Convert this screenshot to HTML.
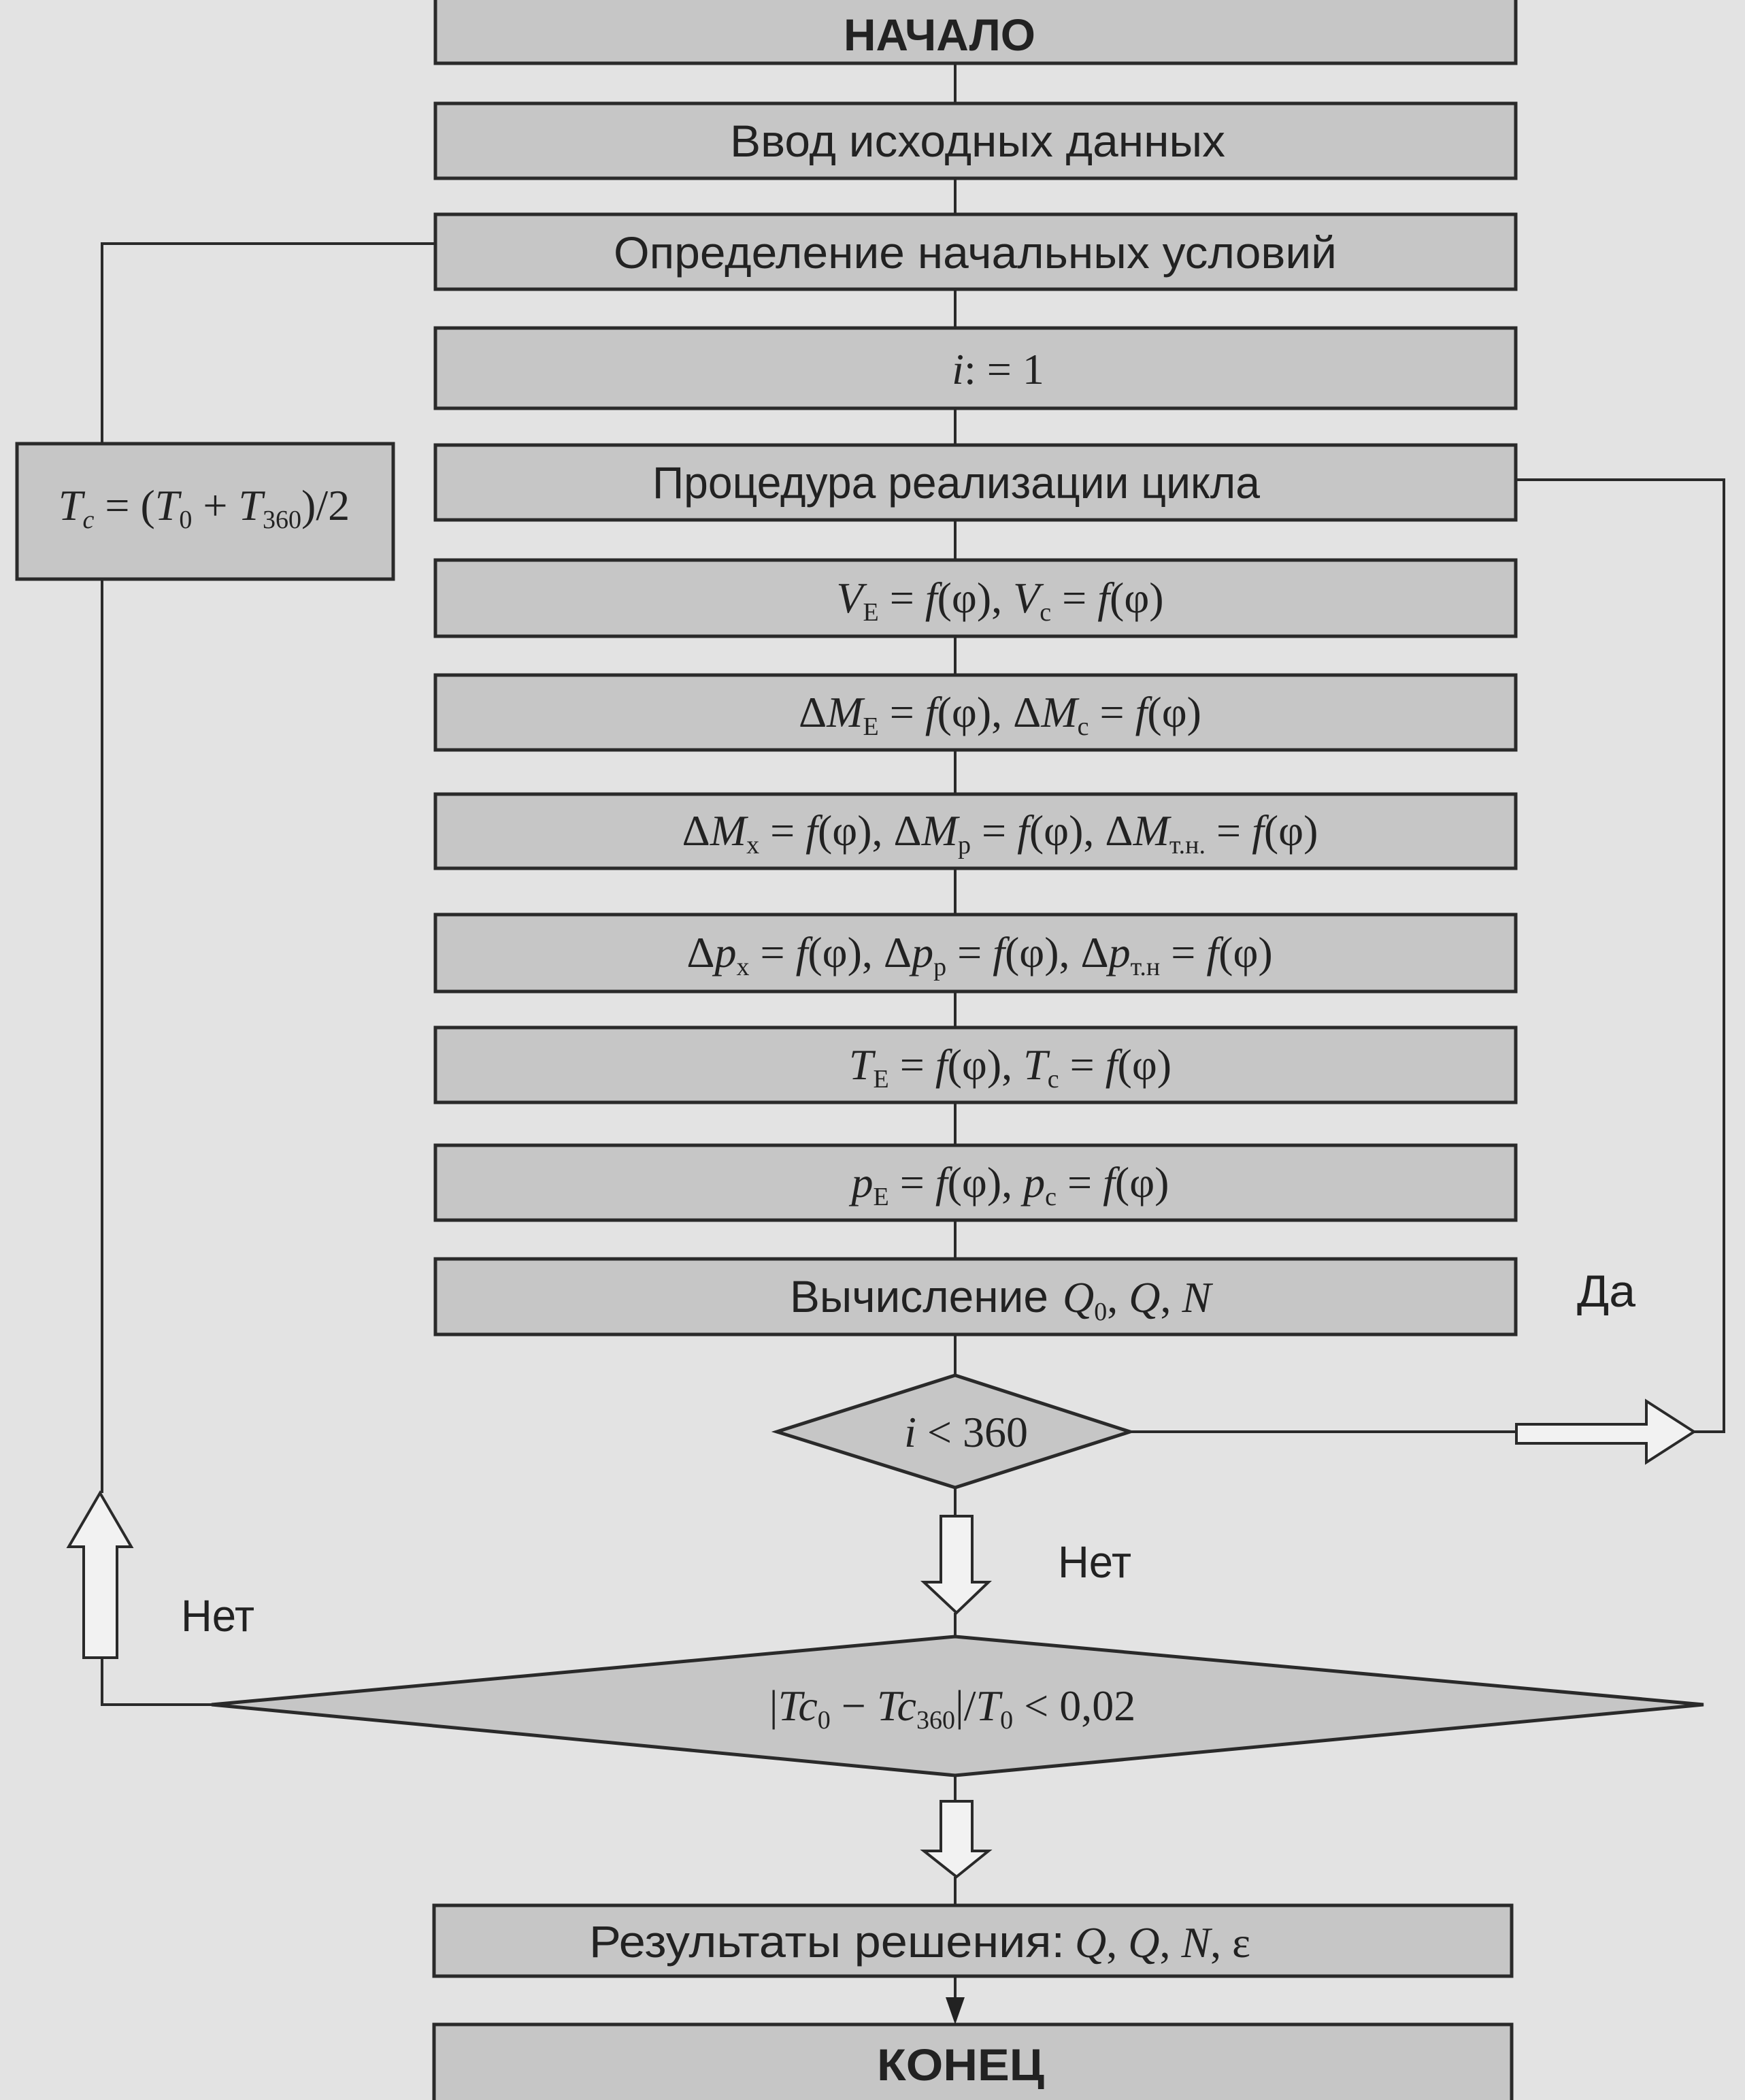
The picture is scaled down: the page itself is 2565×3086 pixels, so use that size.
<!DOCTYPE html>
<html><head><meta charset="utf-8">
<style>
html,body{margin:0;padding:0;background:#e3e3e3;}
svg{display:block;}
.s{font-family:"Liberation Sans Narrow","Liberation Sans",sans-serif;font-size:66px;fill:#222;}
.f{font-family:"Liberation Serif",serif;font-size:64px;fill:#222;}
.i{font-style:italic;}
</style></head>
<body>
<svg width="2565" height="3086" viewBox="0 0 2565 3086" xmlns="http://www.w3.org/2000/svg">
<rect width="2565" height="3086" fill="#e3e3e3"/>
<g stroke="#2a2a2a" stroke-width="5" fill="#c6c6c6">
<rect x="640" y="-5" width="1588" height="98"/>
<rect x="640" y="152" width="1588" height="110"/>
<rect x="640" y="315" width="1588" height="110"/>
<rect x="640" y="482" width="1588" height="118"/>
<rect x="640" y="654" width="1588" height="110"/>
<rect x="640" y="823" width="1588" height="112"/>
<rect x="640" y="992" width="1588" height="110"/>
<rect x="640" y="1167" width="1588" height="109"/>
<rect x="640" y="1344" width="1588" height="113"/>
<rect x="640" y="1510" width="1588" height="110"/>
<rect x="640" y="1683" width="1588" height="110"/>
<rect x="640" y="1850" width="1588" height="111"/>
<rect x="25" y="652" width="553" height="199"/>
<rect x="638" y="2800" width="1584" height="104"/>
<rect x="638" y="2975" width="1584" height="120"/>
<polygon points="1404,2021 1661,2104 1404,2186 1142,2104"/>
<polygon points="1404,2405 2504,2505 1404,2609 311,2505"/>
</g>
<g stroke="#2a2a2a" stroke-width="4" fill="none">
<line x1="1404" y1="93" x2="1404" y2="152"/>
<line x1="1404" y1="262" x2="1404" y2="315"/>
<line x1="1404" y1="425" x2="1404" y2="482"/>
<line x1="1404" y1="600" x2="1404" y2="654"/>
<line x1="1404" y1="764" x2="1404" y2="823"/>
<line x1="1404" y1="935" x2="1404" y2="992"/>
<line x1="1404" y1="1102" x2="1404" y2="1167"/>
<line x1="1404" y1="1276" x2="1404" y2="1344"/>
<line x1="1404" y1="1457" x2="1404" y2="1510"/>
<line x1="1404" y1="1620" x2="1404" y2="1683"/>
<line x1="1404" y1="1793" x2="1404" y2="1850"/>
<line x1="1404" y1="1961" x2="1404" y2="2021"/>
<line x1="1404" y1="2186" x2="1404" y2="2228"/>
<line x1="1404" y1="2370" x2="1404" y2="2405"/>
<line x1="1404" y1="2609" x2="1404" y2="2647"/>
<line x1="1404" y1="2758" x2="1404" y2="2800"/>
<line x1="1404" y1="2904" x2="1404" y2="2935"/>
<polyline points="311,2505 150,2505 150,2436"/>
<polyline points="150,2194 150,851"/>
<polyline points="150,652 150,358 640,358"/>
<polyline points="2228,705 2534,705 2534,2104 2490,2104"/>
<line x1="1661" y1="2104" x2="2229" y2="2104"/>
</g>
<polygon points="1390,2935 1418,2935 1404,2975" fill="#222"/>
<g stroke="#2a2a2a" stroke-width="4" fill="#f2f2f2">
<polygon points="1383,2228 1429,2228 1429,2325 1453,2325 1406,2370 1358,2325 1383,2325"/>
<polygon points="1383,2647 1429,2647 1429,2720 1453,2720 1406,2758 1358,2720 1383,2720"/>
<polygon points="123,2436 123,2273 101,2273 147,2194 193,2273 172,2273 172,2436"/>
<polygon points="2229,2093 2420,2093 2420,2059 2490,2104 2420,2149 2420,2121 2229,2121"/>
</g>
<text class="s" x="1240" y="74" font-weight="bold" textLength="282" lengthAdjust="spacingAndGlyphs">НАЧАЛО</text>
<text class="s" x="1073" y="230" textLength="728" lengthAdjust="spacingAndGlyphs">Ввод исходных данных</text>
<text class="s" x="902" y="394" textLength="1063" lengthAdjust="spacingAndGlyphs">Определение начальных условий</text>
<text class="s" x="959" y="732" textLength="893" lengthAdjust="spacingAndGlyphs">Процедура реализации цикла</text>
<text class="s" x="1161" y="1928" textLength="380" lengthAdjust="spacingAndGlyphs">Вычисление</text>
<text class="s" x="866" y="2876" textLength="699" lengthAdjust="spacingAndGlyphs">Результаты решения:</text>
<text class="s" x="1289" y="3057" font-weight="bold" textLength="246" lengthAdjust="spacingAndGlyphs">КОНЕЦ</text>
<text class="f" x="1562" y="1928"><tspan class="i">Q</tspan><tspan style="font-size:38px" dy="12">0</tspan><tspan dy="-12">, </tspan><tspan class="i">Q</tspan>, <tspan class="i">N</tspan></text>
<text class="f" x="1580" y="2876"><tspan class="i">Q</tspan>, <tspan class="i">Q</tspan>, <tspan class="i">N</tspan>, ε</text>
<g text-anchor="middle">
<text class="f" x="1467" y="564"><tspan class="i">i</tspan>: = 1</text>
<text class="f" x="1470" y="900"><tspan class="i">V</tspan><tspan font-size="38" dy="12">Е</tspan><tspan dy="-12"> = </tspan><tspan class="i">f</tspan>(φ), <tspan class="i">V</tspan><tspan font-size="38" dy="12">с</tspan><tspan dy="-12"> = </tspan><tspan class="i">f</tspan>(φ)</text>
<text class="f" x="1470" y="1068">Δ<tspan class="i">M</tspan><tspan font-size="38" dy="12">Е</tspan><tspan dy="-12"> = </tspan><tspan class="i">f</tspan>(φ), Δ<tspan class="i">M</tspan><tspan font-size="38" dy="12">с</tspan><tspan dy="-12"> = </tspan><tspan class="i">f</tspan>(φ)</text>
<text class="f" x="1470" y="1242">Δ<tspan class="i">M</tspan><tspan font-size="38" dy="12">х</tspan><tspan dy="-12"> = </tspan><tspan class="i">f</tspan>(φ), Δ<tspan class="i">M</tspan><tspan font-size="38" dy="12">р</tspan><tspan dy="-12"> = </tspan><tspan class="i">f</tspan>(φ), Δ<tspan class="i">M</tspan><tspan font-size="38" dy="12">т.н.</tspan><tspan dy="-12">  = </tspan><tspan class="i">f</tspan>(φ)</text>
<text class="f" x="1440" y="1421">Δ<tspan class="i">p</tspan><tspan font-size="38" dy="12">х</tspan><tspan dy="-12"> = </tspan><tspan class="i">f</tspan>(φ), Δ<tspan class="i">p</tspan><tspan font-size="38" dy="12">р</tspan><tspan dy="-12"> = </tspan><tspan class="i">f</tspan>(φ), Δ<tspan class="i">p</tspan><tspan font-size="38" dy="12">т.н</tspan><tspan dy="-12"> = </tspan><tspan class="i">f</tspan>(φ)</text>
<text class="f" x="1485" y="1586"><tspan class="i">T</tspan><tspan font-size="38" dy="12">Е</tspan><tspan dy="-12"> = </tspan><tspan class="i">f</tspan>(φ), <tspan class="i">T</tspan><tspan font-size="38" dy="12">с</tspan><tspan dy="-12"> = </tspan><tspan class="i">f</tspan>(φ)</text>
<text class="f" x="1485" y="1759"><tspan class="i">p</tspan><tspan font-size="38" dy="12">Е</tspan><tspan dy="-12"> = </tspan><tspan class="i">f</tspan>(φ), <tspan class="i">p</tspan><tspan font-size="38" dy="12">с</tspan><tspan dy="-12"> = </tspan><tspan class="i">f</tspan>(φ)</text>
<text class="f" x="1420" y="2126"><tspan class="i">i</tspan> &lt; 360</text>
<text class="f" x="1400" y="2528">|<tspan class="i">Tc</tspan><tspan font-size="38" dy="12">0</tspan><tspan dy="-12"> − </tspan><tspan class="i">Tc</tspan><tspan font-size="38" dy="12">360</tspan><tspan dy="-12">|/</tspan><tspan class="i">T</tspan><tspan font-size="38" dy="12">0</tspan><tspan dy="-12"> &lt; 0,02</tspan></text>
<text class="f" x="300" y="764"><tspan class="i">T</tspan><tspan font-size="38" dy="12" class="i">c</tspan><tspan dy="-12"> = (</tspan><tspan class="i">T</tspan><tspan font-size="38" dy="12">0</tspan><tspan dy="-12"> + </tspan><tspan class="i">T</tspan><tspan font-size="38" dy="12">360</tspan><tspan dy="-12">)/2</tspan></text>
</g>
<text class="s" x="1555" y="2318" textLength="108" lengthAdjust="spacingAndGlyphs">Нет</text>
<text class="s" x="266" y="2397" textLength="108" lengthAdjust="spacingAndGlyphs">Нет</text>
<text class="s" x="2318" y="1920" textLength="86" lengthAdjust="spacingAndGlyphs">Да</text>
</svg>
</body></html>
